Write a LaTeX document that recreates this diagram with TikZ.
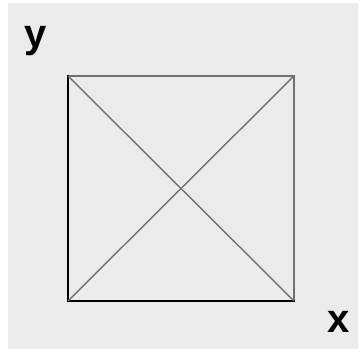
\documentclass[tikz,border=0pt]{standalone}
\usepackage{fontspec}
\setmainfont{Liberation Sans}
\definecolor{bg}{HTML}{EBEBEB}
\definecolor{linegray}{HTML}{707070}
\tikzset{
  strong/.style={black, line width=2.2pt},
  weak/.style={draw=linegray, line width=1.6pt},
  diag/.style={draw=linegray, line width=1.4pt},
  axislabel/.style={font=\bfseries\fontsize{40}{40}\selectfont, inner sep=0pt}
}
\begin{document}
\begin{tikzpicture}[x=1pt,y=-1pt]
\useasboundingbox (0,0) rectangle (360,353);
\fill[white] (0,0) rectangle (360,353);
\fill[bg] (8,3) rectangle (358,349);
\coordinate (tl) at (68,76);
\coordinate (tr) at (294,76);
\coordinate (bl) at (68,301);
\coordinate (br) at (294,301);
\draw[weak] (tl) -- (tr) -- (br);
\draw[strong, line cap=rect] (tl) -- (bl) -- (br);
\draw[diag] (tl) -- (br);
\draw[diag] (bl) -- (tr);
\node[axislabel] (ylab) at (36,41) {y};
\node[axislabel] (xlab) at (339,322) {x};
\end{tikzpicture}
\end{document}
